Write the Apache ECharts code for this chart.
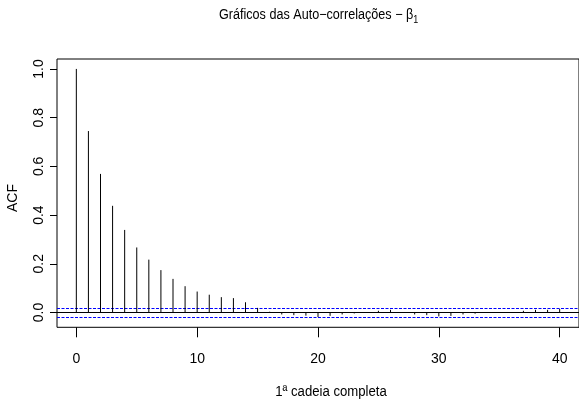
<!DOCTYPE html>
<html>
<head>
<meta charset="utf-8">
<script src="https://cdn.jsdelivr.net/npm/echarts@6/dist/echarts.min.js"></script>
<style>html,body{margin:0;padding:0;background:#fff}#c{width:579px;height:413px}</style>
</head>
<body>
<div id="c"></div>
<script>
var lags = [0,1,2,3,4,5,6,7,8,9,10,11,12,13,14,15,16,17,18,19,20,21,22,23,24,25,26,27,28,29,30,31,32,33,34,35,36,37,38,39,40];
var acfValues = [1.0,0.745,0.569,0.438,0.339,0.267,0.217,0.174,0.138,0.108,0.086,0.073,0.063,0.059,0.042,0.019,0.003,-0.008,-0.011,-0.013,-0.019,-0.014,-0.008,-0.004,0.000,0.007,0.011,0.002,-0.008,-0.011,-0.016,-0.014,-0.008,-0.005,-0.002,0.001,-0.002,0.007,0.011,0.011,0.015];
var xTicks = [0,10,20,30,40];
var yTicks = [0,0.2,0.4,0.6,0.8,1.0];
var ciBound = 0.0196;
var refLines = [0, ciBound, -ciBound];
var titleText = 'Gráficos das Auto−correlações − β';
var xLabel = '1ª cadeia completa';
var yLabel = 'ACF';

var FONT = 'Liberation Sans';
var X_MIN = -1.6, X_MAX = 41.6;
var chart = echarts.init(document.getElementById('c'), null, {renderer:'canvas'});
var stemData = lags.map(function(l,i){return [l, acfValues[i]];});
chart.setOption({
  animation:false,
  backgroundColor:'#fff',
  grid:{left:57, top:59, width:526, height:268.3, show:true, borderColor:'#000', borderWidth:1, backgroundColor:'transparent'},
  xAxis:{type:'value', min:X_MIN, max:X_MAX,
    axisLine:{show:false, onZero:false}, splitLine:{show:false},
    axisTick:{show:true, customValues:xTicks, length:10, lineStyle:{color:'#000'}},
    axisLabel:{show:true, customValues:xTicks, color:'#000', fontFamily:FONT, fontSize:14, margin:25}
  },
  yAxis:{type:'value', min:-0.0608, max:1.0408,
    axisLine:{show:false, onZero:false}, splitLine:{show:false},
    axisTick:{show:true, customValues:yTicks, length:7, lineStyle:{color:'#000'}},
    axisLabel:{show:true, customValues:yTicks, color:'#000', fontFamily:FONT, fontSize:14, rotate:90, margin:11,
      formatter:function(v){return v.toFixed(1);}}
  },
  graphic:[
    {type:'text', x:219, y:15, scaleX:0.9, style:{text:'{a|'+titleText+'}{s|1}', textVerticalAlign:'middle', rich:{a:{fontFamily:FONT, fontSize:14, fill:'#000'}, s:{fontFamily:FONT, fontSize:10, fill:'#000', padding:[10,0,0,0]}}}},
    {type:'text', x:331, y:392, scaleX:0.94, style:{text:xLabel, fontFamily:FONT, fontSize:14, fill:'#000', textAlign:'center', textVerticalAlign:'middle'}},
    {type:'text', x:13, y:198, rotation:Math.PI/2, style:{text:yLabel, fontFamily:FONT, fontSize:14, fill:'#000', textAlign:'center', textVerticalAlign:'middle'}}
  ],
  series:[
    {type:'custom', data:refLines.map(function(v){return [v];}), silent:true, clip:true,
      renderItem:function(params, api){
        var v = api.value(0);
        var p0 = api.coord([X_MIN, v]);
        var p1 = api.coord([X_MAX, v]);
        var isZero = v === 0;
        var y = Math.round(p0[1]) + 0.5;
        return {type:'line', shape:{x1:p0[0], y1:y, x2:p1[0], y2:y},
          style:{stroke: isZero ? '#000' : '#0000ff', lineWidth:1, lineDash: isZero ? null : [3,1.5]}};
      }
    },
    {type:'custom', data:stemData, silent:true,
      renderItem:function(params, api){
        var p0 = api.coord([api.value(0), 0]);
        var p1 = api.coord([api.value(0), api.value(1)]);
        return {type:'line', shape:{x1:p0[0], y1:p0[1], x2:p1[0], y2:p1[1]}, style:{stroke:'#000', lineWidth:1}};
      }
    }
  ]
});
</script>
</body>
</html>
